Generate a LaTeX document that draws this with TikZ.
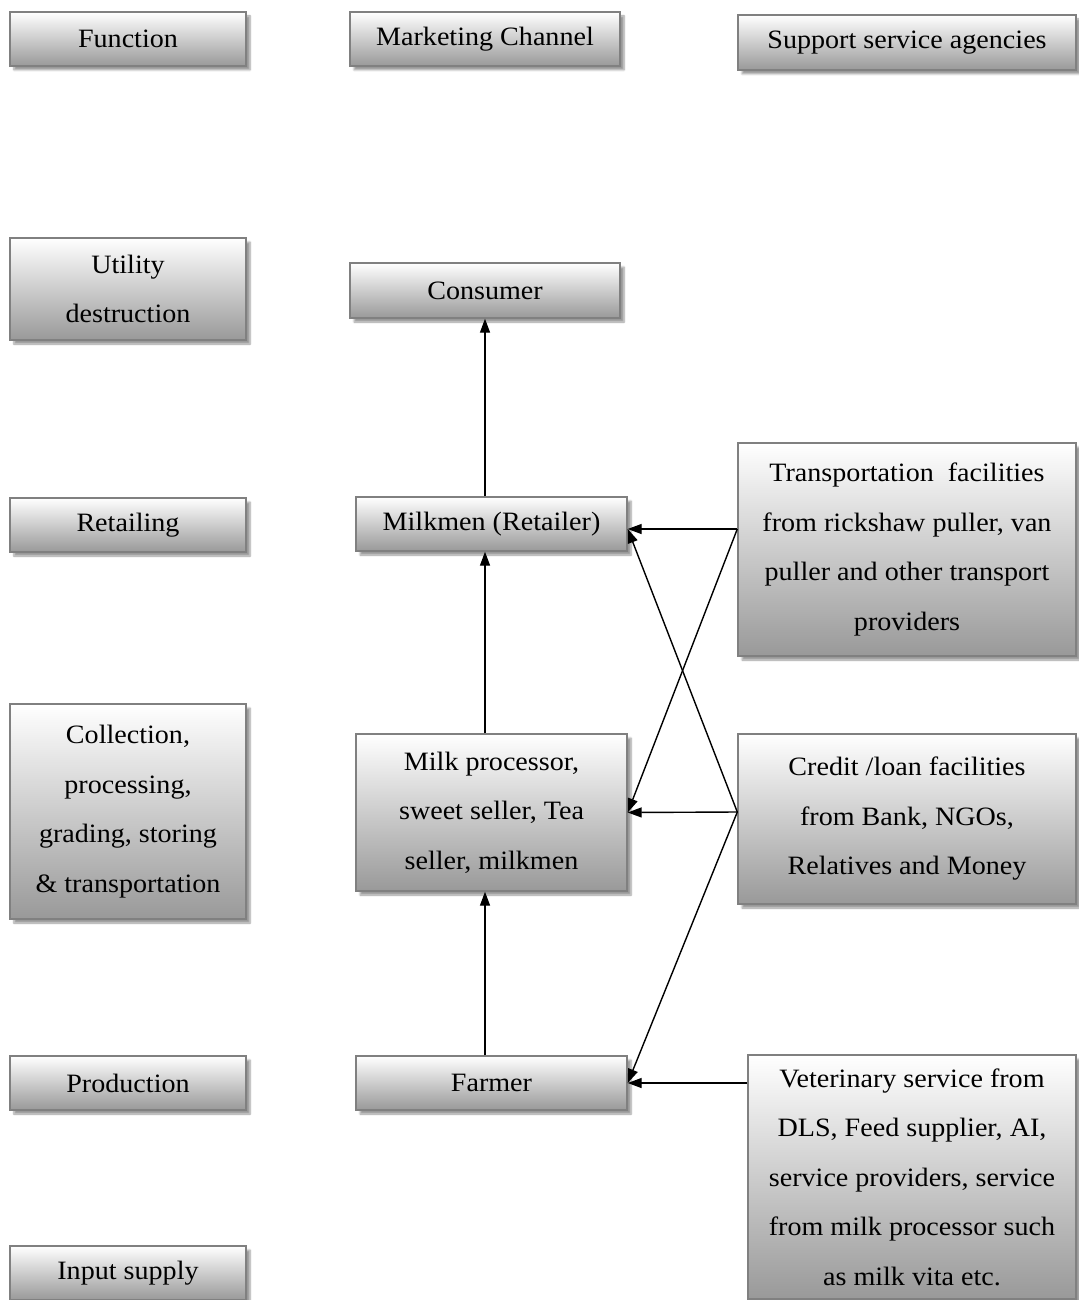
\documentclass[tikz,border=0pt]{standalone}
\usepackage{fontspec}
\setmainfont[FakeStretch=1.06]{Liberation Serif}
\usetikzlibrary{shadows.blur,arrows.meta,calc}
\begin{document}
\begin{tikzpicture}[x=1pt,y=-1pt,
  box/.style={draw=black!50, line width=1.4pt, top color=white, bottom color=black!40,
    blur shadow={shadow xshift=4pt, shadow yshift=-4pt, shadow blur steps=6, shadow opacity=40},
    align=center, inner sep=2pt,
    font=\fontsize{26.5}{49.5}\selectfont},
  arr/.style={line width=1.4pt, -{Triangle[length=14pt,width=10pt]}}]
\useasboundingbox (0,0) rectangle (1078,1300);
% left column
\node[box, minimum width=236, minimum height=54] (fun) at (128,39) {Function};
\node[box, minimum width=236, minimum height=102] (util) at (128,289) {Utility\\destruction};
\node[box, minimum width=236, minimum height=54] (ret) at (128,525) {Retailing};
\node[box, minimum width=236, minimum height=215] (coll) at (128,811.5) {Collection,\\processing,\\grading, storing\\\& transportation};
\node[box, minimum width=236, minimum height=54] (prod) at (128,1083) {Production};
\node[box, minimum width=236, minimum height=54] (inp) at (128,1273) {Input supply};
% middle column
\node[box, minimum width=270, minimum height=54] (mc) at (485,39) {Marketing Channel};
\node[box, minimum width=270, minimum height=55] (cons) at (485,290.5) {Consumer};
\node[box, minimum width=271, minimum height=54] (milk) at (491.5,524) {Milkmen (Retailer)};
\node[box, minimum width=271, minimum height=157] (proc) at (491.5,812.5) {Milk processor,\\sweet seller, Tea\\seller, milkmen};
\node[box, minimum width=271, minimum height=54] (farm) at (491.5,1083) {Farmer};
% right column
\node[box, minimum width=338, minimum height=55] (sup) at (907,42.5) {Support service agencies};
\node[box, minimum width=338, minimum height=213] (trans) at (907,549.5) {Transportation\ \ facilities\\from rickshaw puller, van\\puller and other transport\\providers};
\node[box, minimum width=338, minimum height=170] (cred) at (907,819) {Credit /loan facilities\\from Bank, NGOs,\\Relatives and Money};
\node[box, minimum width=328, minimum height=244] (vet) at (912,1177) {Veterinary service from\\DLS, Feed supplier, AI,\\service providers, service\\from milk processor such\\as milk vita etc.};
% vertical flow
\draw[arr] (milk.north -| cons.south) -- (cons.south);
\draw[arr] (proc.north -| cons.south) -- (milk.south -| cons.south);
\draw[arr] (farm.north -| cons.south) -- (proc.south -| cons.south);
% support arrows
\coordinate (tL) at ([yshift=20.5pt]trans.west);
\coordinate (cL) at ([yshift=7pt]cred.west);
\coordinate (vL) at ([yshift=94pt]vet.west);
\coordinate (mR) at ([yshift=-5pt]milk.east);
\draw[arr] (tL) -- (mR);
\draw[arr] (tL) -- (proc.east);
\draw[arr] (cL) -- (proc.east);
\draw[arr] (cL) -- (mR);
\draw[arr] (cL) -- (farm.east);
\draw[arr] (vL) -- (farm.east);
\end{tikzpicture}
\end{document}
